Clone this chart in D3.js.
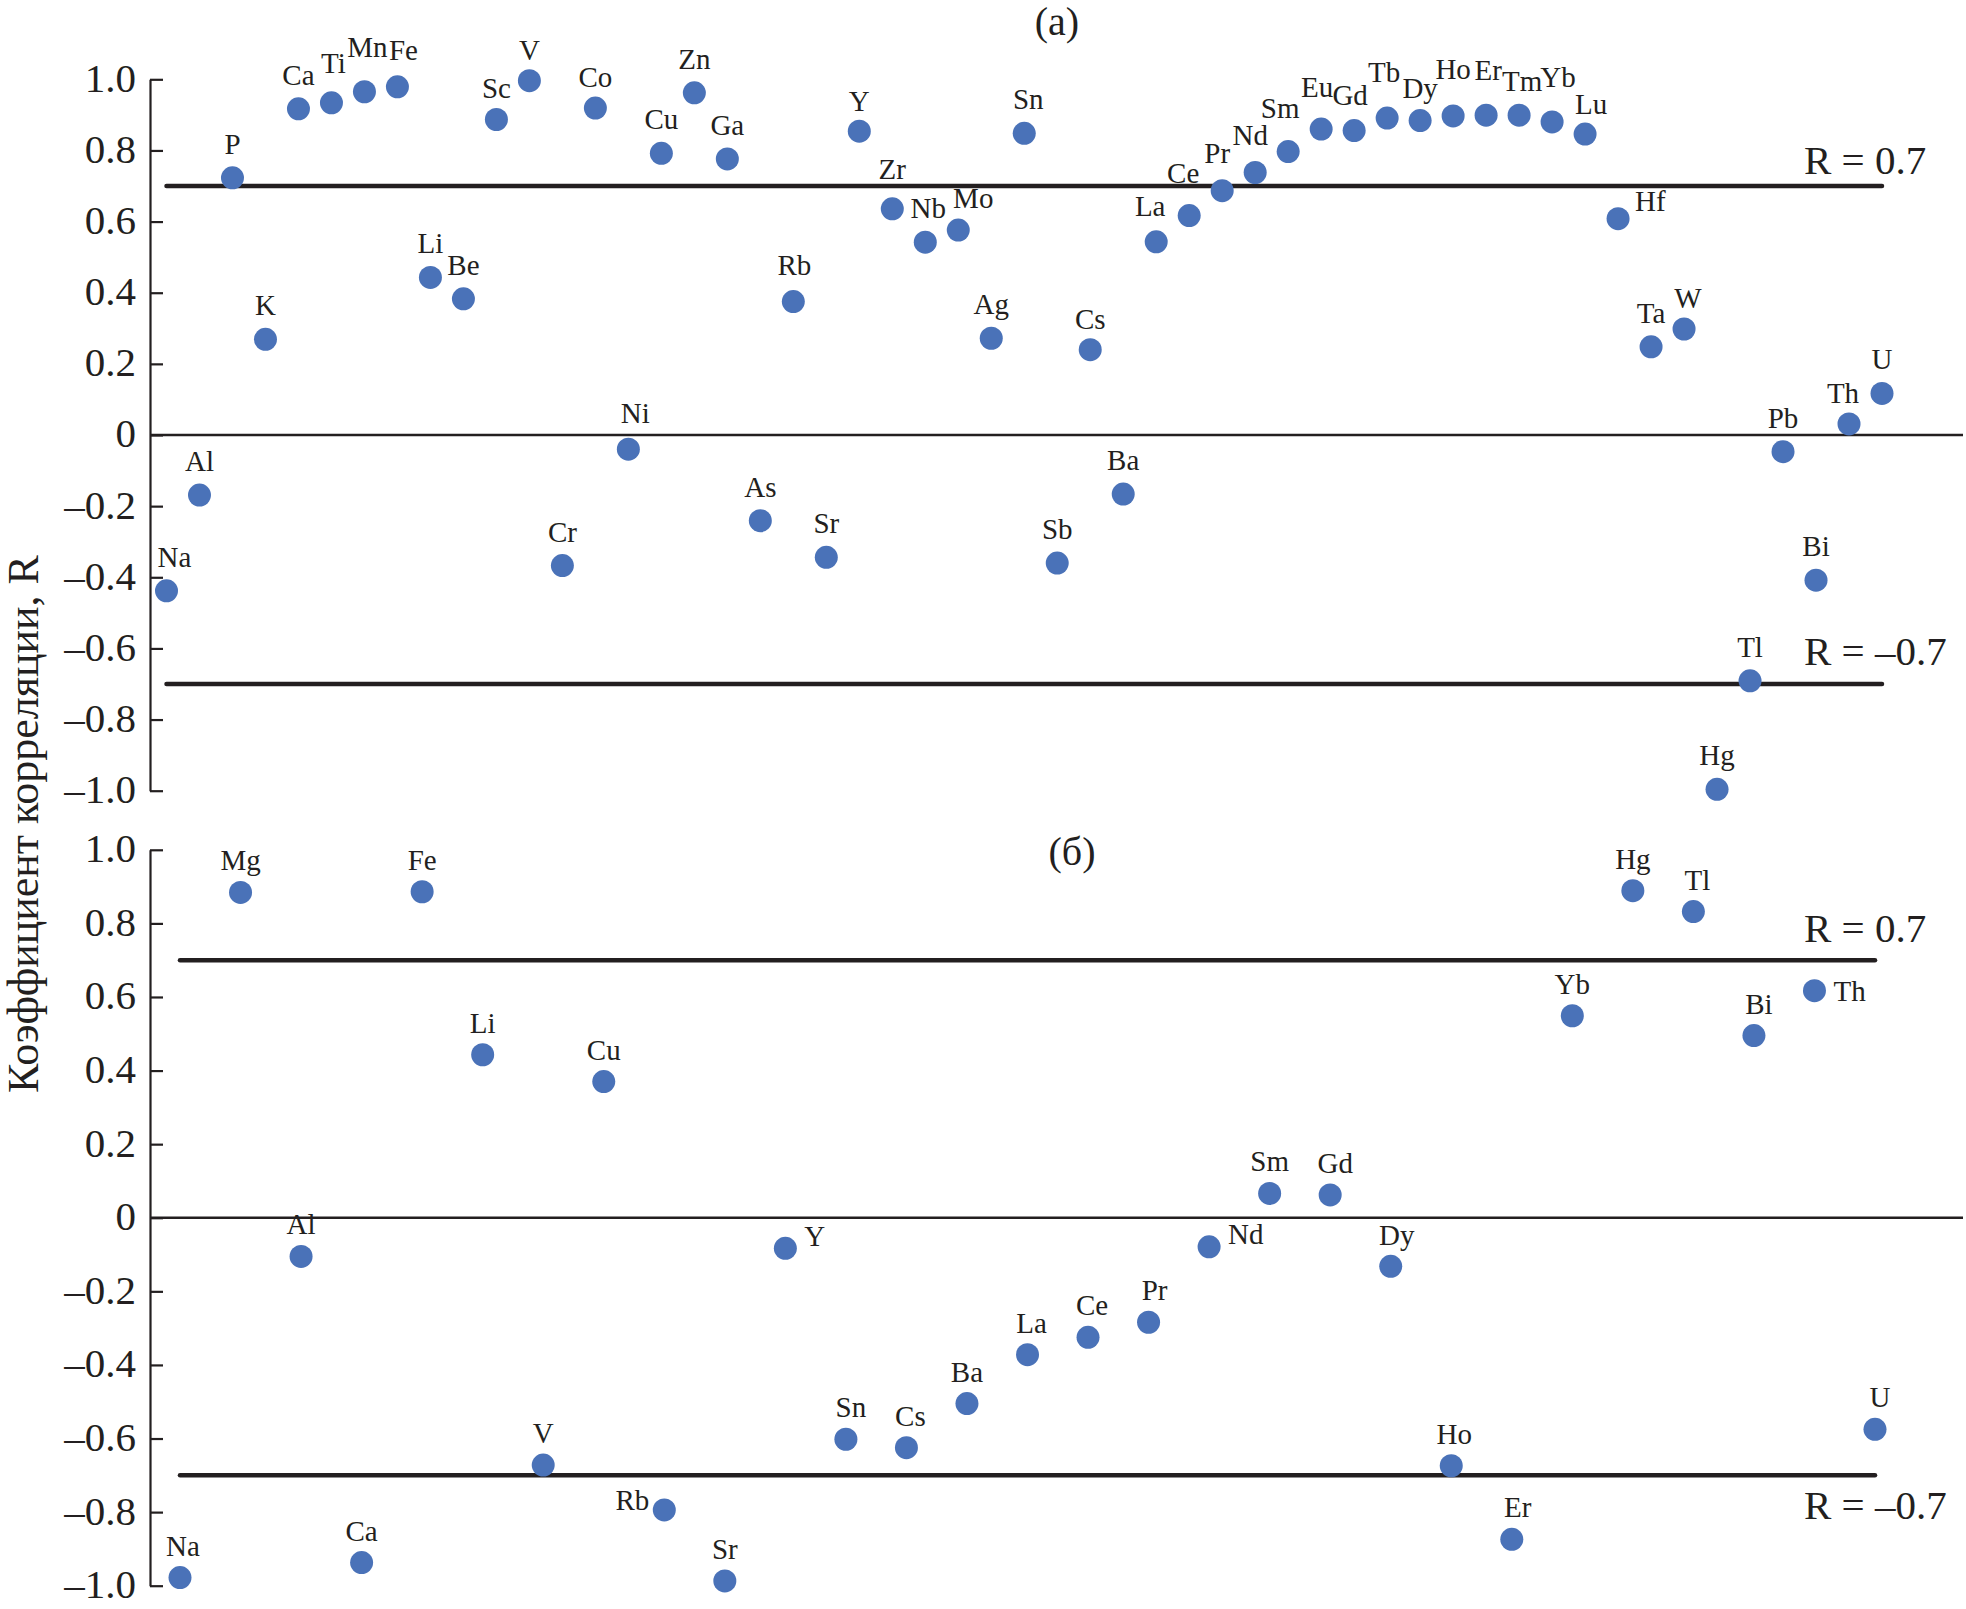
<!DOCTYPE html>
<html>
<head>
<meta charset="utf-8">
<script src="https://cdn.jsdelivr.net/npm/d3@7"></script>
<style>
  html, body { margin: 0; padding: 0; background: #fff; }
  svg { display: block; }
  text { font-family: "Liberation Serif", "Times New Roman", serif; fill: #231f20; }
</style>
</head>
<body>
<svg id="chart" width="1966" height="1609"></svg>
<script>
// ---------- DATA ----------
const elementsA = ["Na","Al","P","K","Ca","Ti","Mn","Fe","Li","Be","Sc","V","Cr","Co","Ni","Cu","Zn","Ga","As","Rb","Sr","Y","Zr","Nb","Mo","Ag","Sn","Sb","Cs","Ba","La","Ce","Pr","Nd","Sm","Eu","Gd","Tb","Dy","Ho","Er","Tm","Yb","Lu","Hf","Ta","W","Hg","Tl","Pb","Bi","Th","U"];
const valuesA = [-0.438,-0.169,0.723,0.269,0.917,0.934,0.965,0.979,0.443,0.383,0.887,0.996,-0.367,0.919,-0.040,0.792,0.962,0.776,-0.241,0.375,-0.344,0.854,0.636,0.542,0.576,0.272,0.848,-0.360,0.240,-0.166,0.543,0.617,0.687,0.738,0.797,0.860,0.856,0.891,0.884,0.897,0.899,0.899,0.880,0.846,0.608,0.248,0.298,-0.996,-0.691,-0.047,-0.408,0.031,0.117];

const elementsB = ["Na","Mg","Al","Ca","Fe","Li","V","Cu","Rb","Sr","Y","Sn","Cs","Ba","La","Ce","Pr","Nd","Sm","Gd","Dy","Ho","Er","Yb","Hg","Tl","Bi","Th","U"];
const valuesB = [-0.978,0.884,-0.105,-0.937,0.886,0.443,-0.672,0.370,-0.794,-0.987,-0.083,-0.602,-0.625,-0.505,-0.372,-0.325,-0.284,-0.079,0.066,0.062,-0.132,-0.674,-0.874,0.549,0.889,0.832,0.495,0.617,-0.575];

const tickValues = [1.0,0.8,0.6,0.4,0.2,0,-0.2,-0.4,-0.6,-0.8,-1.0];
const tickLabels = ["1.0","0.8","0.6","0.4","0.2","0","\u20130.2","\u20130.4","\u20130.6","\u20130.8","\u20131.0"];
const thresholds = [0.7, -0.7];
const thresholdLabels = ["R = 0.7", "R = \u20130.7"];
const panelTitles = ["(a)", "(\u0431)"];
const yTitle = "\u041a\u043e\u044d\u0444\u0444\u0438\u0446\u0438\u0435\u043d\u0442 \u043a\u043e\u0440\u0440\u0435\u043b\u044f\u0446\u0438\u0438, R";

// ---------- LAYOUT (label placement tweaks, not data) ----------
const nudgeA = {Na:[8,-24],Ti:[2,-30],Mn:[3,-35],Fe:[6,-27],Sc:[0,-21],V:[0,-21],Co:[0,-21],Ni:[7,-26],
  Zr:[0,-30],Nb:[3,-24],Mo:[15,-22],Sn:[4,-24],Y:[0,-20],Cs:[0,-21],La:[-6,-26],Ce:[-6,-33],Pr:[-5,-28],
  Nd:[-5,-27],Sm:[-8,-34],Eu:[-4,-32],Gd:[-4,-26],Tb:[-3,-36],Dy:[0,-23],Ho:[0,-37],Er:[2,-35],Tm:[3,-24],
  Yb:[6,-35],Lu:[6,-20],Hf:[17,-8,"start"],W:[4,-21],Th:[-6,-21],Rb:[1,-27]};
const nudgeB = {Na:[3,-22],Gd:[5,-22],Tl:[4,-22],Bi:[5,-22],Th:[19,10,"start"],Rb:[-15,0,"end"],
  Y:[19,-2,"start"],Nd:[19,-3,"start"],Pr:[6,-22],Ce:[4,-22],La:[4,-22],Sn:[5,-22],Cs:[4,-22],
  Dy:[6,-21],Ho:[3,-22],Er:[6,-22],U:[5,-22]};

const svg = d3.select("#chart");
const axisX = 150;
const dotColor = "#4a72b8";
const ink = "#231f20";

const panels = [
  {elements: elementsA, values: valuesA, xr: [166.5, 1882], yr: [790.7, 79.3], nudge: nudgeA, defDy: -24,
   title: panelTitles[0], titleX: 1057, titleY: 35,
   rLabelDy: [-12, -19]},
  {elements: elementsB, values: valuesB, xr: [180, 1875], yr: [1585.7, 849.8], nudge: nudgeB, defDy: -22,
   title: panelTitles[1], titleX: 1072, titleY: 865,
   rLabelDy: [-18.5, 44]}
];

panels.forEach(p => {
  const x = d3.scalePoint().domain(p.elements).range(p.xr);
  const y = d3.scaleLinear().domain([-1, 1]).range(p.yr);
  const g = svg.append("g");

  // zero line
  g.append("line")
    .attr("x1", axisX).attr("x2", 1963)
    .attr("y1", y(0)).attr("y2", y(0))
    .attr("stroke", ink).attr("stroke-width", 2.6);

  // threshold lines
  thresholds.forEach((t, i) => {
    g.append("line")
      .attr("x1", x(p.elements[0])).attr("x2", x(p.elements[p.elements.length - 1]))
      .attr("y1", y(t)).attr("y2", y(t))
      .attr("stroke", ink).attr("stroke-width", 4.5).attr("stroke-linecap", "round");
    g.append("text")
      .attr("x", 1804).attr("y", y(t) + p.rLabelDy[i])
      .attr("font-size", 41)
      .text(thresholdLabels[i]);
  });

  // axis
  const axis = d3.axisLeft(y)
    .tickValues(tickValues)
    .tickFormat((d, i) => tickLabels[i])
    .tickSizeInner(-13).tickSizeOuter(0).tickPadding(14);
  const ag = g.append("g").attr("transform", `translate(${axisX},0)`).call(axis);
  ag.select(".domain").attr("stroke", ink).attr("stroke-width", 2.2);
  ag.selectAll(".tick line").attr("stroke", ink).attr("stroke-width", 2.2);
  ag.selectAll(".tick text")
    .attr("font-size", 41)
    .attr("font-family", "Liberation Serif, Times New Roman, serif")
    .attr("fill", ink)
    .attr("dy", "0.29em");

  // dots
  g.selectAll("circle.dot").data(p.elements).enter().append("circle")
    .attr("class", "dot")
    .attr("cx", d => x(d))
    .attr("cy", (d, i) => y(p.values[i]))
    .attr("r", 11.5)
    .attr("fill", dotColor);

  // labels
  g.selectAll("text.lbl").data(p.elements).enter().append("text")
    .attr("class", "lbl")
    .attr("font-size", 29)
    .attr("text-anchor", d => (p.nudge[d] && p.nudge[d][2]) || "middle")
    .attr("x", d => x(d) + (p.nudge[d] ? p.nudge[d][0] : 0))
    .attr("y", (d, i) => y(p.values[i]) + (p.nudge[d] ? p.nudge[d][1] : p.defDy))
    .text(d => d);

  // panel title
  g.append("text")
    .attr("x", p.titleX).attr("y", p.titleY)
    .attr("text-anchor", "middle").attr("font-size", 40)
    .text(p.title);
});

// y-axis title
svg.append("text")
  .attr("transform", "translate(38,824) rotate(-90)")
  .attr("text-anchor", "middle")
  .attr("font-size", 44)
  .text(yTitle);
</script>
</body>
</html>
